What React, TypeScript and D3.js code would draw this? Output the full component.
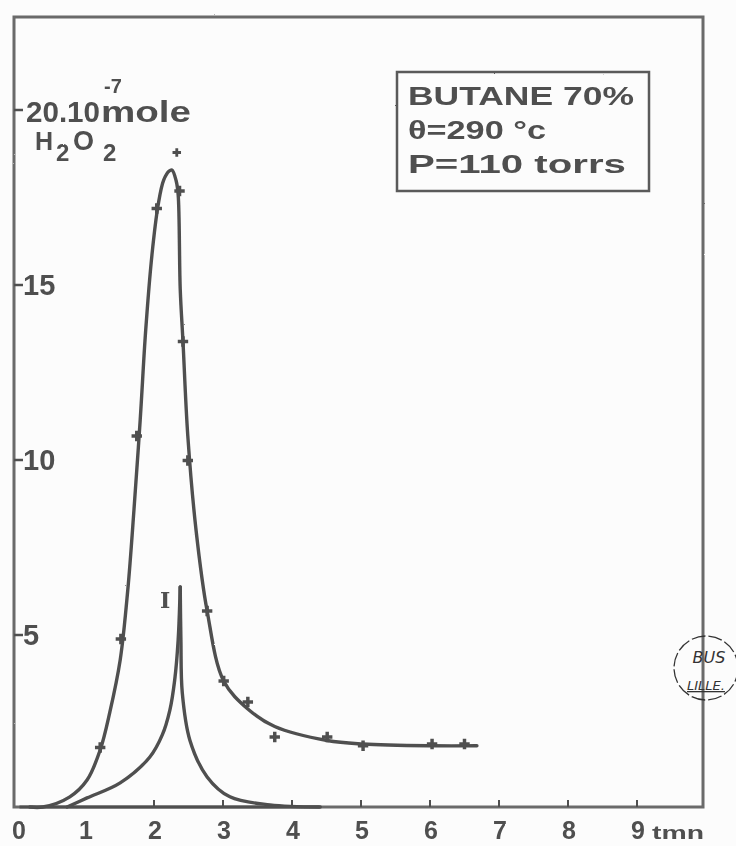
import React, { useEffect, useRef } from 'react';
import * as d3 from 'd3';

// H2O2 (10^-7 mole) against time (min)
// total curve (drawn line)
const totalCurveT = [0.2, 0.39, 0.78, 1.03, 1.22, 1.36, 1.51, 1.62, 1.71, 1.8, 1.88, 1.97, 2.06, 2.14, 2.22, 2.26, 2.32, 2.35, 2.38, 2.42, 2.49, 2.61, 2.77, 3.01, 3.36, 3.75, 4.51, 5.03, 6.03, 6.68];
const totalCurveV = [0, 0, 0.29, 0.77, 1.63, 2.71, 4.2, 6.2, 8.5, 11.06, 13.63, 15.77, 17.2, 17.91, 18.17, 18.2, 17.9, 17.5, 14.8, 13.3, 10.6, 7.9, 5.6, 3.6, 2.8, 2.3, 1.9, 1.8, 1.75, 1.75];

// measured points on the total curve
const totalPointsT = [1.22, 1.52, 1.75, 2.04, 2.37, 2.42, 2.49, 2.77, 3.01, 3.36, 3.75, 4.51, 5.03, 6.03, 6.5];
const totalPointsV = [1.7, 4.8, 10.6, 17.1, 17.6, 13.3, 9.9, 5.6, 3.6, 3.0, 2.0, 2.0, 1.75, 1.8, 1.8];

// isolated point above the maximum
const peakMarkT = [2.33];
const peakMarkV = [18.7];

// curve I : rise then fall (cusp at the top)
const innerRiseT = [0.74, 1.03, 1.51, 1.94, 2.12, 2.23, 2.3, 2.35, 2.38];
const innerRiseV = [0, 0.26, 0.69, 1.43, 2.06, 2.77, 3.63, 4.77, 6.29];
const innerFallT = [2.38, 2.39, 2.41, 2.52, 2.77, 3.1, 3.68, 4.41];
const innerFallV = [6.29, 4.77, 3.26, 1.91, 0.86, 0.29, 0.06, 0];

const xTicks = [0, 1, 2, 3, 4, 5, 6, 7, 8, 9];
const yTicks = [5, 10, 15];
const legendLines = ['BUTANE 70%', 'θ=290 °c', 'P=110 torrs'];
const legendWidths = [226, 138, 218];

const ink = '#4f4f4f';
const font = '"Liberation Sans", Arial, sans-serif';

function App() {
  const ref = useRef<SVGSVGElement>(null);

  useEffect(() => {
    drawChart();
  }, []);

  function drawChart() {
    const svg = d3.select(ref.current);
    svg.selectAll('*').remove();

    const x = d3.scaleLinear().domain([0, 10]).range([16, 706]);
    const y = d3.scaleLinear().domain([0, 20]).range([807, 107]);

    // pencil grain
    const defs = svg.append('defs');
    const f = defs.append('filter').attr('id', 'grain').attr('x', '-5%').attr('y', '-5%').attr('width', '110%').attr('height', '110%');
    f.append('feTurbulence').attr('type', 'fractalNoise').attr('baseFrequency', 0.9).attr('numOctaves', 1).attr('result', 'n');
    f.append('feDisplacementMap').attr('in', 'SourceGraphic').attr('in2', 'n').attr('scale', 1.6);

    svg.append('rect').attr('width', 736).attr('height', 846).attr('fill', '#fcfcfc');

    const g = svg.append('g').attr('filter', 'url(#grain)');

    // frame
    g.append('rect')
      .attr('x', 14)
      .attr('y', 17)
      .attr('width', 689)
      .attr('height', y(0) - 17)
      .attr('fill', 'none')
      .attr('stroke', '#6a6a6a')
      .attr('stroke-width', 3);

    // x ticks
    g.selectAll('.xt')
      .data(xTicks.slice(2))
      .enter()
      .append('line')
      .attr('x1', d => x(d))
      .attr('x2', d => x(d))
      .attr('y1', y(0))
      .attr('y2', y(0) - 7)
      .attr('stroke', ink)
      .attr('stroke-width', 2);

    g.selectAll('.xl')
      .data(xTicks)
      .enter()
      .append('text')
      .attr('x', d => x(d) + (d === 0 ? 3 : 1))
      .attr('y', 839)
      .attr('text-anchor', 'middle')
      .attr('font-family', font)
      .attr('font-weight', 'bold')
      .attr('font-size', 25)
      .attr('fill', ink)
      .text(d => d);

    g.append('text')
      .attr('x', 652)
      .attr('y', 839)
      .attr('font-family', font)
      .attr('font-weight', 'bold')
      .attr('font-size', 19)
      .attr('textLength', 52)
      .attr('lengthAdjust', 'spacingAndGlyphs')
      .attr('fill', ink)
      .text('tmn');

    // y ticks
    g.selectAll('.yt')
      .data(yTicks.concat([20]))
      .enter()
      .append('line')
      .attr('x1', 14)
      .attr('x2', 23)
      .attr('y1', d => y(d) + 3)
      .attr('y2', d => y(d) + 3)
      .attr('stroke', ink)
      .attr('stroke-width', 2.5);

    g.selectAll('.yl')
      .data(yTicks)
      .enter()
      .append('text')
      .attr('x', 23)
      .attr('y', d => y(d) + 13)
      .attr('font-family', font)
      .attr('font-weight', 'bold')
      .attr('font-size', 29)
      .attr('fill', ink)
      .text(d => d);

    // unit label
    const unit = g.append('g').attr('font-family', font).attr('font-weight', 'bold').attr('fill', ink);
    unit.append('text').attr('x', 26).attr('y', y(20) + 15).attr('font-size', 29).attr('textLength', 74).attr('lengthAdjust', 'spacingAndGlyphs').text('20.10');
    unit.append('text').attr('x', 101).attr('y', y(20) + 15).attr('font-size', 29).attr('textLength', 90).attr('lengthAdjust', 'spacingAndGlyphs').text('mole');
    unit.append('text').attr('x', 104).attr('y', 93).attr('font-size', 20).text('-7');
    unit.append('text').attr('x', 35).attr('y', 150).attr('font-size', 25).text('H');
    unit.append('text').attr('x', 56).attr('y', 161).attr('font-size', 24).text('2');
    unit.append('text').attr('x', 73).attr('y', 150).attr('font-size', 27).text('O');
    unit.append('text').attr('x', 103).attr('y', 161).attr('font-size', 24).text('2');

    // legend box
    g.append('rect')
      .attr('x', 397)
      .attr('y', 72)
      .attr('width', 252)
      .attr('height', 119)
      .attr('fill', 'none')
      .attr('stroke', '#5a5a5a')
      .attr('stroke-width', 2.5);

    g.selectAll('.lg')
      .data(legendLines)
      .enter()
      .append('text')
      .attr('x', 408)
      .attr('y', (_, i) => 105 + i * 34)
      .attr('font-family', font)
      .attr('font-weight', 'bold')
      .attr('font-size', 26)
      .attr('textLength', (_, i) => legendWidths[i])
      .attr('lengthAdjust', 'spacingAndGlyphs')
      .attr('fill', ink)
      .text(d => d);

    // curves
    const path = (ts: number[], vs: number[]) =>
      d3
        .line<number>()
        .x((_, i) => x(ts[i]))
        .y((_, i) => y(vs[i]))
        .curve(d3.curveCatmullRom.alpha(0.5))(ts);

    [
      [totalCurveT, totalCurveV],
      [innerRiseT, innerRiseV],
      [innerFallT, innerFallV]
    ].forEach(([ts, vs]) => {
      g.append('path')
        .attr('d', path(ts, vs))
        .attr('fill', 'none')
        .attr('stroke', ink)
        .attr('stroke-width', 3.4)
        .attr('stroke-linecap', 'round');
    });

    // baseline thickening where the curves start
    g.append('line')
      .attr('x1', x(0.05))
      .attr('x2', x(4.4))
      .attr('y1', y(0))
      .attr('y2', y(0))
      .attr('stroke', ink)
      .attr('stroke-width', 3);

    // measured points
    const sym = d3.symbol().type(d3.symbolCross).size(60);
    g.selectAll('.pt')
      .data(totalPointsT)
      .enter()
      .append('path')
      .attr('d', sym)
      .attr('transform', (d, i) => `translate(${x(d)}, ${y(totalPointsV[i])})`)
      .attr('fill', ink);

    g.selectAll('.pk')
      .data(peakMarkT)
      .enter()
      .append('path')
      .attr('d', d3.symbol().type(d3.symbolCross).size(40))
      .attr('transform', (d, i) => `translate(${x(d)}, ${y(peakMarkV[i])})`)
      .attr('fill', ink);

    // curve label
    g.append('text')
      .attr('x', x(2.16))
      .attr('y', y(5.7))
      .attr('text-anchor', 'middle')
      .attr('font-family', '"DejaVu Serif", serif')
      .attr('font-weight', 'bold')
      .attr('font-size', 22)
      .attr('fill', ink)
      .text('I');

    // library stamp
    const st = svg.append('g').attr('fill', '#333').attr('font-family', '"DejaVu Sans", sans-serif');
    st.append('circle')
      .attr('cx', 706)
      .attr('cy', 668)
      .attr('r', 32)
      .attr('fill', 'none')
      .attr('stroke', '#333')
      .attr('stroke-width', 1.3)
      .attr('stroke-dasharray', '14 3');
    st.append('text').attr('x', 709).attr('y', 663).attr('text-anchor', 'middle').attr('font-size', 16).attr('font-style', 'italic').attr('font-weight', 300).text('BUS');
    st.append('text').attr('x', 706).attr('y', 690).attr('text-anchor', 'middle').attr('font-size', 13).attr('font-style', 'italic').attr('text-decoration', 'underline').text('LILLE.');
  }

  return (
    <svg
      ref={ref}
      width={736}
      height={846}
      style={{ position: 'absolute', left: 0, top: 0 }}
    />
  );
}

export default App;
